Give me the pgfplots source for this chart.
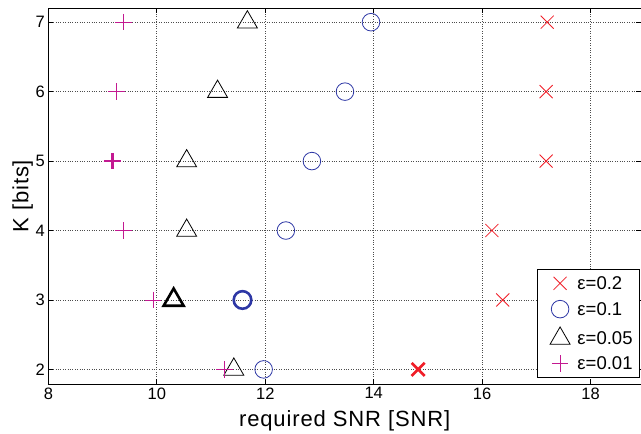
\documentclass[border=0pt]{standalone}
\usepackage{pgfplots}
\pgfplotsset{compat=1.18}
\usepackage{fontspec}
\setmainfont{Liberation Sans}
\newfontfamily\labelfont{Liberation Sans}[LetterSpace=4]
\definecolor{cred}{RGB}{240,30,40}
\definecolor{cblue}{RGB}{45,55,165}
\definecolor{cmag}{RGB}{195,25,145}
\begin{document}
\begin{tikzpicture}
\begin{axis}[
  scale only axis,
  width=592.6pt, height=375.7pt,
  xmin=8, xmax=18.93, ymin=1.79, ymax=7.2,
  xtick={8,10,12,14,16,18}, ytick={2,3,4,5,6,7},
  /pgf/number format/assume math mode=true,
  tick label style={font=\fontsize{16.5}{18}\selectfont},
  label style={font=\labelfont\fontsize{22}{24}\selectfont},
  xlabel={required SNR [SNR]}, ylabel={K [bits]},
  xlabel style={yshift=-4pt}, ylabel style={yshift=-4pt},
  tick align=inside, major tick length=5pt,
  tick style={black, line width=0.8pt},
  axis line style={line width=0.8pt},
  grid=major, major grid style={dotted, black!70, line width=0.7pt},
  legend image code/.code={\path (0pt,0pt) (32pt,0pt);\draw[only marks, mark repeat=2, mark phase=2, #1] plot coordinates {(0pt,0pt) (17pt,0pt) (32pt,0pt)};},
  legend style={at={(0.9983,0.016)}, anchor=south east, font=\fontsize{18.5}{20}\selectfont,
    draw=black, line width=0.9pt, inner xsep=5pt, inner ysep=5.5pt, row sep=9pt,
    nodes={inner xsep=2pt, inner ysep=0pt, text height=14pt, text depth=2pt}},
  legend cell align=left,
  every axis plot/.append style={only marks},
  clip=false,
]
\addplot[cred, mark=x, mark size=9.2pt, line width=0.8pt] coordinates {(17.2,7) (17.18,6) (17.18,5) (16.18,4) (16.38,3)};
\addlegendentry{ε=0.2}
\addplot[cblue, mark=o, mark size=8.8pt, line width=0.8pt] coordinates {(13.95,7) (13.47,6) (12.86,5) (12.38,4) (11.97,2)};
\addlegendentry{ε=0.1}
\addplot[black, mark=triangle, mark size=11.5pt, line width=0.8pt] coordinates {(11.67,7) (11.12,6) (10.55,5) (10.55,4) (11.42,2)};
\addlegendentry{ε=0.05}
\addplot[cmag, mark=+, mark size=8.3pt, line width=0.8pt] coordinates {(9.39,7) (9.26,6) (9.38,4) (9.93,3) (11.25,2)};
\addlegendentry{ε=0.01}
\addplot[cred, mark=x, mark size=9.2pt, line width=2.6pt, forget plot] coordinates {(14.82,2)};
\addplot[cblue, mark=o, mark size=8.8pt, line width=2.6pt, forget plot] coordinates {(11.58,3)};
\addplot[black, mark=triangle, mark size=11.5pt, line width=2.6pt, forget plot] coordinates {(10.31,3)};
\addplot[cmag, mark=+, mark size=8.3pt, line width=2.6pt, forget plot] coordinates {(9.18,5)};
\end{axis}
\pgfresetboundingbox
\path (-48.4pt,-50pt) rectangle (592.6pt,384pt);
\end{tikzpicture}
\end{document}
